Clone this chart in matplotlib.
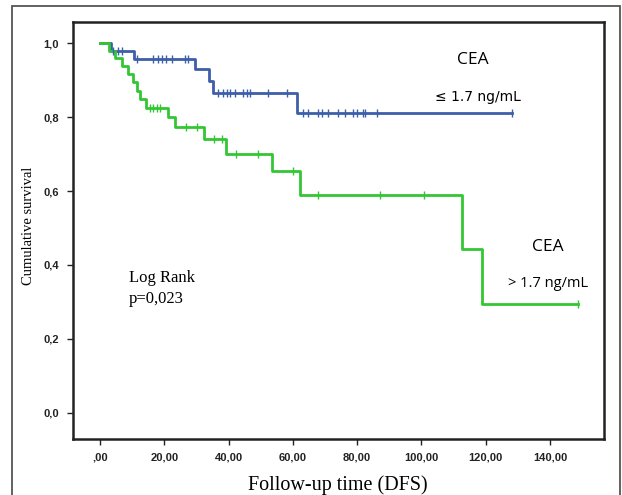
import numpy as np
import matplotlib
matplotlib.use("Agg")
import matplotlib.pyplot as plt
from matplotlib.patches import Rectangle

# ---- data ----
low_times = [0, 3.5, 10.5, 29.6, 33.9, 35.3, 61.4, 128.1]
low_surv = [1.0, 0.978, 0.957, 0.929, 0.898, 0.866, 0.810, 0.810]
low_censor = [4.1, 5.7, 6.7, 11.4, 16.6, 18.1, 19.2, 20.5, 22.3, 26.4, 27.5,
              36.8, 38.4, 39.4, 40.4, 42.0, 44.6, 45.6, 46.7, 52.3, 58.2,
              63.3, 64.8, 67.9, 69.0, 71.0, 74.1, 76.2, 78.8, 79.9, 81.9,
              82.4, 86.1, 128.1]

high_times = [0, 2.9, 4.7, 6.7, 8.8, 10.4, 11.6, 12.4, 14.3, 21.3, 23.3,
              32.4, 39.1, 53.4, 62.2, 112.7, 118.7, 148.8]
high_surv = [1.0, 0.979, 0.959, 0.939, 0.916, 0.894, 0.871, 0.849, 0.824,
             0.801, 0.772, 0.741, 0.700, 0.655, 0.589, 0.442, 0.294, 0.294]
high_censor = [15.6, 16.6, 17.6, 18.7, 26.9, 30.3, 35.5, 38.1, 42.4, 49.3,
               60.1, 67.9, 87.1, 100.8, 148.8]

xticks = [0, 20, 40, 60, 80, 100, 120, 140]
xticklabels = [",00", "20,00", "40,00", "60,00", "80,00", "100,00", "120,00", "140,00"]
yticks = [0.0, 0.2, 0.4, 0.6, 0.8, 1.0]
yticklabels = ["0,0", "0,2", "0,4", "0,6", "0,8", "1,0"]

blue = "#3d5ea8"
green = "#33c633"

W, H = 622, 495
fig = plt.figure(figsize=(W / 100, H / 100), dpi=100)
ax = fig.add_axes([73 / W, 1 - 439 / H, (604 - 73) / W, (439 - 22) / H])

def censor_y(times, surv, ct):
    idx = np.searchsorted(np.array(times), np.array(ct), side="right") - 1
    return np.array(surv)[idx]

for t, s, c, col in [(high_times, high_surv, high_censor, green),
                     (low_times, low_surv, low_censor, blue)]:
    ax.step(t, s, where="post", color=col, lw=2.0, zorder=3 if col == green else 2)
    ax.plot(c, censor_y(t, s, c), ls="none", marker="|", ms=5.5, mew=1.0,
            color=col, zorder=4)

ax.set_xlim(-8.4, 156.8)
ax.set_ylim(-0.0705, 1.057)

tick_font = dict(family=["Liberation Sans Narrow", "Liberation Sans", "DejaVu Sans"],
                 weight="bold", size=8)
ax.set_xticks(xticks)
ax.set_xticklabels(xticklabels, **tick_font)
ax.set_yticks(yticks)
ax.set_yticklabels(yticklabels, **tick_font)
ax.tick_params(direction="out", length=4, width=1.0, colors="#222222", pad=6)

for side in ["left", "bottom", "top", "right"]:
    ax.spines[side].set_linewidth(1.8)
    ax.spines[side].set_color("#222222")

serif = ["Liberation Serif", "DejaVu Serif"]
ax.set_ylabel("Cumulative survival", family=serif, size=10.5)
ax.yaxis.set_label_coords((35 - 73) / (604 - 73), (439 - 226) / (439 - 22))
fig.text(338 / W, 1 - 485 / H, "Follow-up time (DFS)", family=serif, size=14.5,
         ha="center", va="center")

ax.text(9.0, 0.365, "Log Rank", family=serif, size=12, ha="left", va="center")
ax.text(9.0, 0.308, "p=0,023", family=serif, size=12, ha="left", va="center")

sans = ["Open Sans", "DejaVu Sans"]
ax.text(116.0, 0.954, "CEA", family=sans, size=12.5, ha="center", va="center")
ax.text(117.6, 0.855, "\u2264 1.7 ng/mL", family=["DejaVu Sans"], size=10,
        ha="center", va="center")
ax.text(139.4, 0.449, "CEA", family=sans, size=12.5, ha="center", va="center")
ax.text(139.4, 0.349, "> 1.7 ng/mL", family=sans, size=10.5, ha="center", va="center")

fig.patches.append(Rectangle((12 / W, -0.05), (620 - 12) / W, 1 - 6 / H + 0.05,
                             transform=fig.transFigure, fill=False,
                             edgecolor="#555555", lw=1.3))

fig.savefig("out.png", dpi=100)
